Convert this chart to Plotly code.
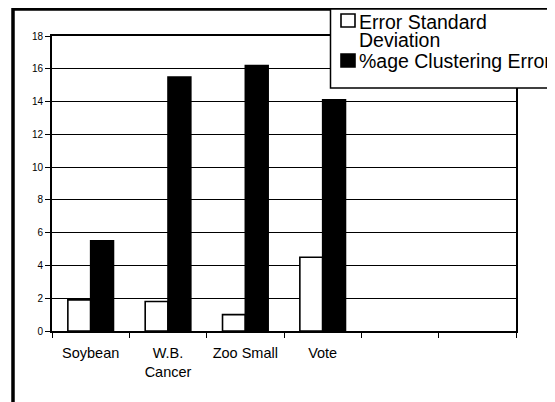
import plotly.graph_objects as go

# ---- data ----
categories = ["Soybean", "W.B.<br>Cancer", "Zoo Small", "Vote", " ", "  "]
series_names = ["Error Standard Deviation", "%age Clustering Error"]
std_dev = [1.9, 1.8, 1.0, 4.5, None, None]
cluster_error = [5.5, 15.5, 16.2, 14.1, None, None]
y_ticks = [0, 2, 4, 6, 8, 10, 12, 14, 16, 18]

FONT = "Liberation Sans, Arial, sans-serif"
W, H = 555, 402
OFF = 8  # page body margin
# plot area in page pixels: x 52..516, y 36..331
L, T = 52 - OFF, 36 - OFF
R = W - (516 - OFF)
B = H - (331 - OFF)
PW, PH = W - L - R, H - T - B


def px2x(px):
    return (px - OFF - L) / PW


def py2y(py):
    return (H - B - (py - OFF)) / PH


fig = go.Figure()
fig.add_trace(go.Bar(
    x=categories, y=std_dev, name=series_names[0],
    marker=dict(color="white", line=dict(color="black", width=1.6)),
    showlegend=False,
))
fig.add_trace(go.Bar(
    x=categories, y=cluster_error, name=series_names[1],
    marker=dict(color="black", line=dict(color="black", width=1.6)),
    showlegend=False,
))

shapes = [
    # outer chart border
    dict(type="rect", xref="paper", yref="paper",
         x0=px2x(13), x1=px2x(620), y0=py2y(470), y1=py2y(9),
         line=dict(color="black", width=3.5), fillcolor="rgba(0,0,0,0)", layer="above"),
    # legend box
    dict(type="rect", xref="paper", yref="paper",
         x0=px2x(330.5), x1=px2x(620), y0=py2y(88), y1=py2y(9),
         line=dict(color="black", width=1.5), fillcolor="white", layer="above"),
    # legend symbols
    dict(type="rect", xref="paper", yref="paper",
         x0=px2x(341), x1=px2x(355), y0=py2y(27), y1=py2y(14),
         line=dict(color="black", width=1.6), fillcolor="white", layer="above"),
    dict(type="rect", xref="paper", yref="paper",
         x0=px2x(341), x1=px2x(355), y0=py2y(67), y1=py2y(54),
         line=dict(color="black", width=1.6), fillcolor="black", layer="above"),
]

words = series_names[0].split(" ")
legend_lines = [(" ".join(words[:2]), 21.5), (words[2], 40.5), (series_names[1], 60.5)]
annotations = [
    dict(text=t, xref="paper", yref="paper", x=px2x(357), y=py2y(cy),
         xanchor="left", yanchor="middle", showarrow=False,
         font=dict(family=FONT, size=19.5, color="black"))
    for t, cy in legend_lines
]

fig.update_layout(
    width=W, height=H,
    margin=dict(l=L, r=R, t=T, b=B, autoexpand=False),
    paper_bgcolor="white", plot_bgcolor="white",
    barmode="group", bargap=0.41, bargroupgap=0,
    font=dict(family=FONT, color="black"),
    shapes=shapes, annotations=annotations,
    showlegend=False,
)
fig.update_xaxes(
    type="category", categoryorder="array", categoryarray=categories,
    showline=True, linecolor="black", linewidth=2, mirror=True,
    ticks="outside", tickson="boundaries", ticklen=5, tickcolor="black", tickwidth=1,
    ticklabelstandoff=8,
    showgrid=False, tickfont=dict(family=FONT, size=14.5, color="black"),
)
fig.update_yaxes(
    range=[0, 18], tickvals=y_ticks, ticktext=[str(v) for v in y_ticks],
    showline=True, linecolor="black", linewidth=2, mirror=True,
    ticks="outside", ticklen=5, tickcolor="black", tickwidth=1,
    showgrid=True, gridcolor="black", gridwidth=1, zeroline=False,
    tickfont=dict(family=FONT, size=10, color="black"),
)

fig.write_html("out.html")
